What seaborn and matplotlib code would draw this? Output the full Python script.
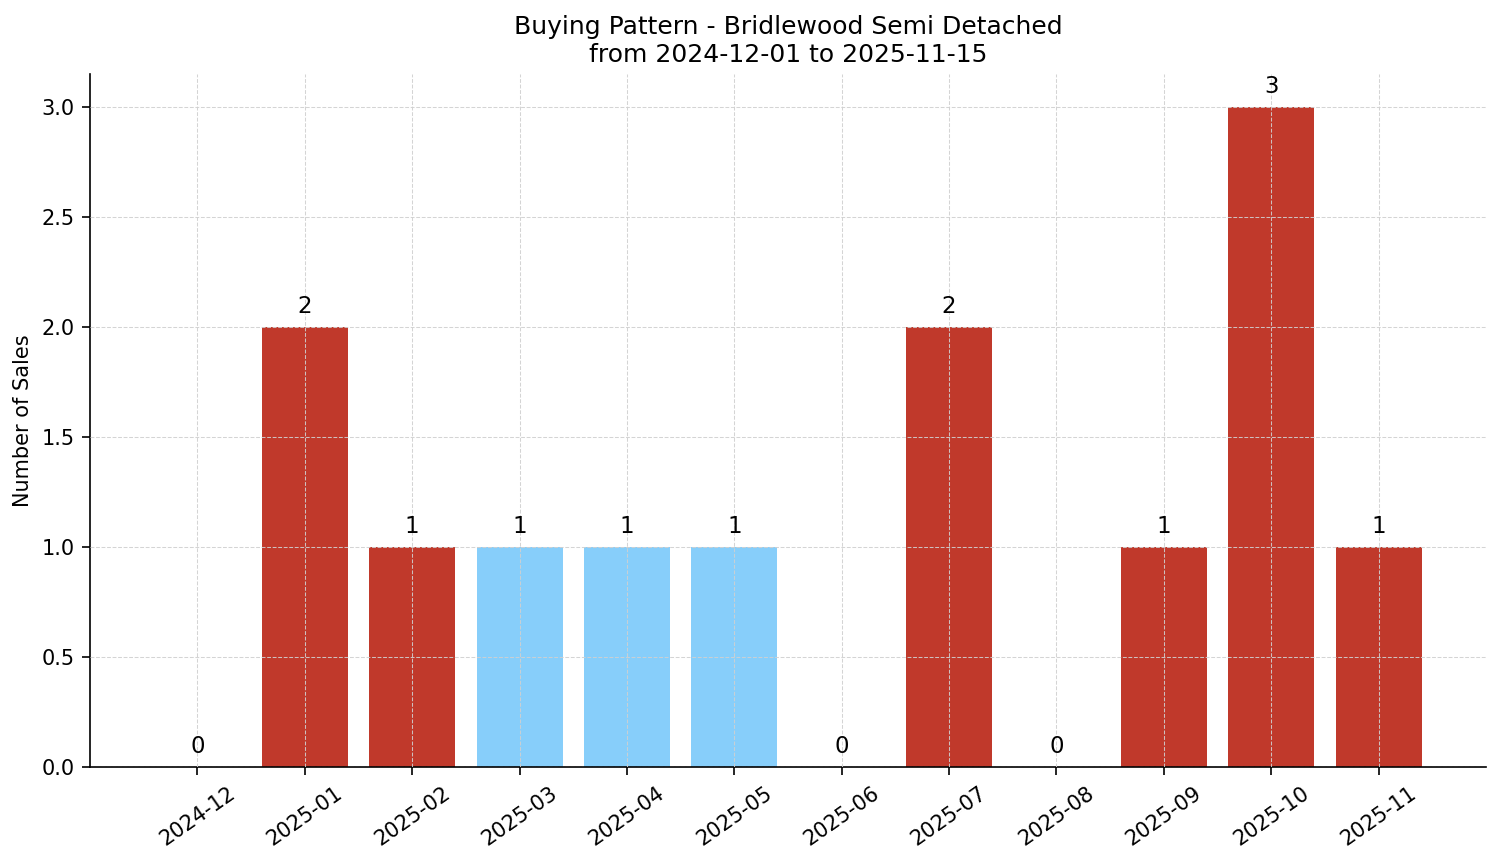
import pandas as pd
import seaborn as sns
import matplotlib.pyplot as plt

# -------------------- DATOS --------------------
months = ["2024-12", "2025-01", "2025-02", "2025-03", "2025-04", "2025-05",
          "2025-06", "2025-07", "2025-08", "2025-09", "2025-10", "2025-11"]
sales = [0, 2, 1, 1, 1, 1, 0, 2, 0, 1, 3, 1]
highlight = [False, False, False, True, True, True,
             False, False, False, False, False, False]

RED = "#c0392b"
BLUE = "#87cefa"

df = pd.DataFrame({"Month": months, "Sales": sales})
palette = {m: (BLUE if h else RED) for m, h in zip(months, highlight)}

sns.set_style("white", {
    "text.color": "black", "axes.labelcolor": "black",
    "xtick.color": "black", "ytick.color": "black",
    "axes.edgecolor": "black",
})
fig, ax = plt.subplots(figsize=(15.01 / 1.5, 8.63 / 1.5), dpi=150)
fig.subplots_adjust(left=0.06, right=0.99, top=0.914, bottom=0.111)

sns.barplot(data=df, x="Month", y="Sales", hue="Month", palette=palette,
            legend=False, width=0.8, saturation=1, linewidth=0, ax=ax)

for i, v in enumerate(sales):
    ax.text(i, v + 0.04, str(v), ha="center", va="bottom", fontsize=11,
            color="black")

ax.set_xlim(-1, len(months))
ax.set_ylim(0, 3.15)
ax.set_axisbelow(False)
ax.grid(True, linestyle="--", linewidth=0.5, color="#d0d0d0", alpha=0.9)
ax.set_title("Buying Pattern - Bridlewood Semi Detached\nfrom 2024-12-01 to 2025-11-15",
             fontsize=12, color="black")
ax.set_xlabel("")
ax.set_ylabel("Number of Sales", fontsize=10)
ax.tick_params(axis="x", rotation=35, labelsize=10, length=4, bottom=True)
ax.tick_params(axis="y", labelsize=10, length=4, left=True)
sns.despine(ax=ax)

fig.savefig("out.png", dpi=150)
